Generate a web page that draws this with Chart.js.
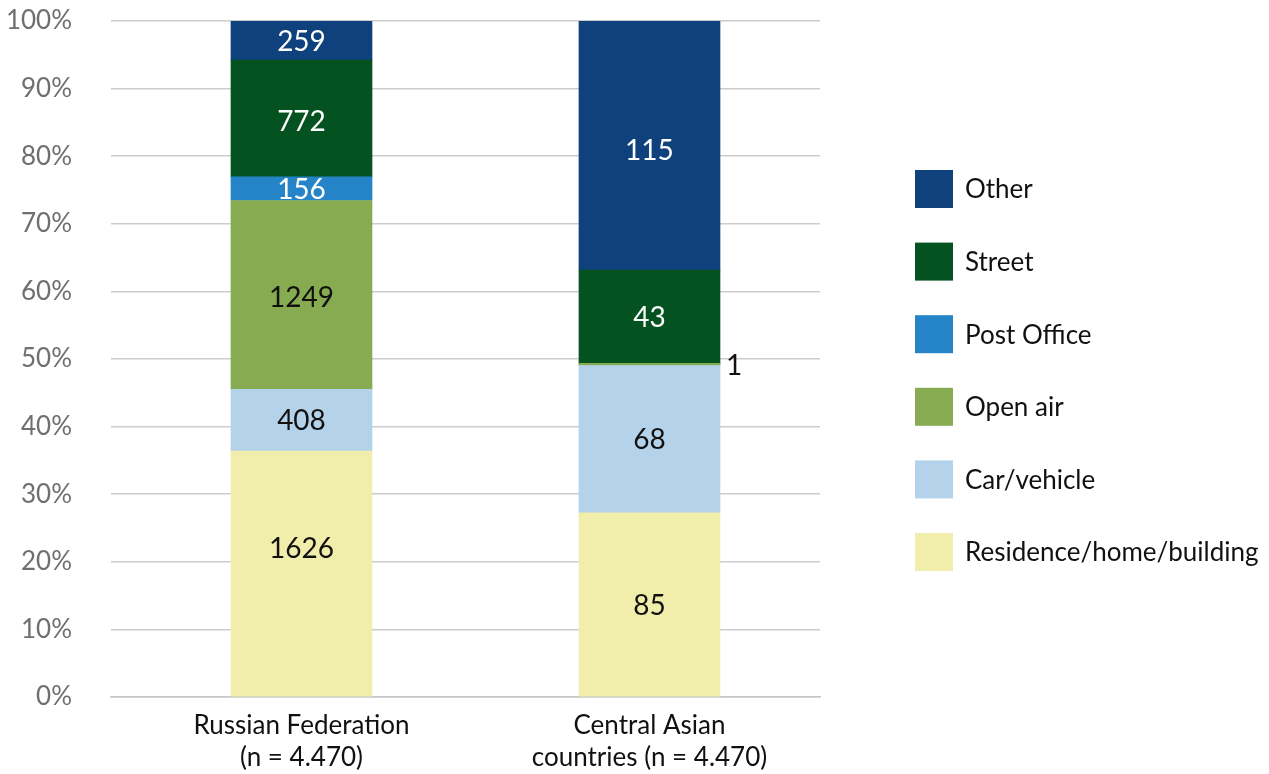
<!DOCTYPE html>
<html>
<head>
<meta charset="utf-8">
<script src="https://cdn.jsdelivr.net/npm/chart.js@4.4.1/dist/chart.umd.min.js"></script>
<style>
  html, body { margin: 0; padding: 0; background: #ffffff; }
  #wrap { width: 1269px; height: 774px; position: relative; }
</style>
</head>
<body>
<div id="wrap"><canvas id="chart"></canvas></div>
<script>
// Categories (two-line axis labels)
const categories = [
  ['Russian Federation', '(n = 4.470)'],
  ['Central Asian', 'countries (n = 4.470)']
];

// Counts per location, one array per series (stacked bottom to top)
const residence  = [1626, 85];
const carVehicle = [408, 68];
const openAir    = [1249, 1];
const postOffice = [156, 0];
const street     = [772, 43];
const other      = [259, 115];

const seriesNames = ['Residence/home/building', 'Car/vehicle', 'Open air', 'Post Office', 'Street', 'Other'];
const seriesValues = [residence, carVehicle, openAir, postOffice, street, other];

// Y axis ticks (percent)
const yTicks = [0, 10, 20, 30, 40, 50, 60, 70, 80, 90, 100];

// Styling
const seriesColors = ['#f1eeab', '#b4d2ea', '#87ab51', '#2584c7', '#03521f', '#0f417c'];
const labelColors  = ['#111111', '#111111', '#111111', '#ffffff', '#ffffff', '#ffffff'];
// vertical label shift in px, per series and category
const labelShift   = [[-26, 0], [0, 0], [2, 0], [0, 0], [2, 0], [0, 4]];
const numFont = 'Lato, "Open Sans", sans-serif';
const textFont = 'Lato, "Open Sans", sans-serif';

// Share of each series within its category total
const totals = categories.map((_, i) => seriesValues.reduce((s, arr) => s + arr[i], 0));
const shareOf = (arr) => arr.map((v, i) => ({ x: i, y: v / totals[i] * 100 }));

const datasets = seriesNames.map((name, d) => ({
  label: name,
  data: shareOf(seriesValues[d]),
  backgroundColor: seriesColors[d],
  borderWidth: 0,
  barThickness: 141
}));

// Count labels on each segment; slivers get their label beside the bar
const segmentLabels = {
  id: 'segmentLabels',
  afterDatasetsDraw(chart) {
    const ctx = chart.ctx;
    ctx.save();
    ctx.font = '28px ' + numFont;
    ctx.textBaseline = 'middle';
    chart.data.datasets.forEach((ds, d) => {
      const meta = chart.getDatasetMeta(d);
      meta.data.forEach((el, i) => {
        const count = seriesValues[d][i];
        if (!count) return;
        const p = el.getProps(['x', 'y', 'base', 'width'], true);
        const h = Math.abs(p.base - p.y);
        const cy = (p.y + p.base) / 2 + labelShift[d][i];
        if (h < 14) {
          ctx.textAlign = 'left';
          ctx.fillStyle = '#111111';
          ctx.fillText(String(count), p.x + p.width / 2 + 6, cy + 2);
        } else {
          ctx.textAlign = 'center';
          ctx.fillStyle = labelColors[d];
          ctx.fillText(String(count), p.x, cy + 1);
        }
      });
    });
    ctx.restore();
  }
};

// Legend at the right, top entry = top of stack
const sideLegend = {
  id: 'sideLegend',
  afterDraw(chart) {
    const ctx = chart.ctx;
    ctx.save();
    ctx.font = '26px ' + textFont;
    ctx.textAlign = 'left';
    ctx.textBaseline = 'middle';
    const n = chart.data.datasets.length;
    const boxX = 915, boxSize = 38, top0 = 170, step = 72.6;
    for (let k = 0; k < n; k++) {
      const ds = chart.data.datasets[n - 1 - k];
      const top = top0 + k * step;
      ctx.fillStyle = ds.backgroundColor;
      ctx.fillRect(boxX, top, boxSize, boxSize);
      ctx.fillStyle = '#111111';
      ctx.fillText(ds.label, 965, top + boxSize / 2 + 1);
    }
    ctx.restore();
  }
};

new Chart(document.getElementById('chart'), {
  type: 'bar',
  data: { datasets },
  options: {
    responsive: true,
    maintainAspectRatio: false,
    animation: false,
    layout: { padding: { top: 21, right: 449, bottom: 0, left: 0 } },
    plugins: {
      legend: { display: false },
      tooltip: { enabled: false }
    },
    scales: {
      x: {
        type: 'linear',
        stacked: true,
        offset: false,
        min: -0.5474,
        max: 1.49,
        afterBuildTicks(axis) { axis.ticks = categories.map((_, i) => ({ value: i })); },
        afterFit(axis) { axis.height = 77; axis.paddingLeft = 0; axis.paddingRight = 0; },
        grid: { display: false, drawTicks: false, offset: false },
        border: { display: true, color: '#c6c6c6', width: 1.5 },
        ticks: {
          autoSkip: false,
          maxRotation: 0,
          padding: 12,
          color: '#111111',
          font: { family: textFont, size: 26, lineHeight: 1.24 },
          callback: (v) => categories[v]
        }
      },
      y: {
        stacked: true,
        min: 0,
        max: 100,
        afterBuildTicks(axis) { axis.ticks = yTicks.map(v => ({ value: v })); },
        afterFit(axis) { axis.width = 111; axis.paddingTop = 0; axis.paddingBottom = 0; },
        grid: { color: '#cdcdcd', lineWidth: 1.5, drawTicks: false },
        border: { display: false },
        ticks: {
          padding: 39,
          color: '#6f6f6f',
          font: { family: numFont, size: 26 },
          callback: (v) => v + '%'
        }
      }
    }
  },
  plugins: [segmentLabels, sideLegend]
});
</script>
</body>
</html>
